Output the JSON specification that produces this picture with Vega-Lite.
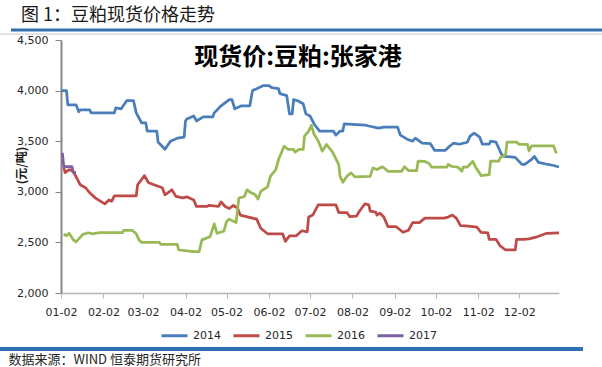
{
  "$schema": "https://vega.github.io/schema/vega-lite/v6.json",
  "width": 498,
  "height": 253,
  "autosize": {"type": "none"},
  "padding": {"left": 61, "top": 40, "right": 43, "bottom": 74},
  "background": "white",
  "config": {"view": {"stroke": null}},
  "title": {"text": "图 1：豆粕现货价格走势", "anchor": "start", "frame": "group", "font": "Noto Sans CJK SC", "fontSize": 18, "fontWeight": "normal", "color": "#1a1a1a", "dx": -40, "offset": -5, "baseline": "middle"},
  "layer": [
    {
      "data": {"values": [{}]},
      "mark": {"type": "rule", "color": "#2f70b0", "strokeWidth": 3},
      "encoding": {"x": {"value": -50}, "x2": {"value": 541}, "y": {"value": -10}, "y2": {"value": -10}}
    },
    {
      "data": {"values": [{}]},
      "mark": {"type": "rule", "color": "#c8c8c8", "strokeWidth": 1},
      "encoding": {"x": {"value": -61}, "x2": {"value": 541}, "y": {"value": -6}, "y2": {"value": -6}}
    },
    {
      "data": {"values": [{}]},
      "mark": {"type": "rule", "color": "#2f70b0", "strokeWidth": 4},
      "encoding": {"x": {"value": -61}, "x2": {"value": 522}, "y": {"value": 309}, "y2": {"value": 309}}
    },
    {
      "data": {"values": [
        {"year":"2014","date":"2014-01-02","price":4000},{"year":"2014","date":"2014-01-06","price":4000},{"year":"2014","date":"2014-01-07","price":3860},{"year":"2014","date":"2014-01-13","price":3860},{"year":"2014","date":"2014-01-15","price":3790},{"year":"2014","date":"2014-01-16","price":3810},{"year":"2014","date":"2014-01-23","price":3810},{"year":"2014","date":"2014-01-24","price":3780},{"year":"2014","date":"2014-02-10","price":3780},{"year":"2014","date":"2014-02-11","price":3830},{"year":"2014","date":"2014-02-15","price":3820},{"year":"2014","date":"2014-02-19","price":3900},{"year":"2014","date":"2014-02-24","price":3900},{"year":"2014","date":"2014-02-26","price":3780},{"year":"2014","date":"2014-03-01","price":3680},{"year":"2014","date":"2014-03-04","price":3680},{"year":"2014","date":"2014-03-05","price":3600},{"year":"2014","date":"2014-03-12","price":3600},{"year":"2014","date":"2014-03-13","price":3490},{"year":"2014","date":"2014-03-16","price":3450},{"year":"2014","date":"2014-03-18","price":3420},{"year":"2014","date":"2014-03-22","price":3500},{"year":"2014","date":"2014-03-27","price":3530},{"year":"2014","date":"2014-04-01","price":3540},{"year":"2014","date":"2014-04-02","price":3700},{"year":"2014","date":"2014-04-03","price":3720},{"year":"2014","date":"2014-04-08","price":3750},{"year":"2014","date":"2014-04-10","price":3700},{"year":"2014","date":"2014-04-15","price":3740},{"year":"2014","date":"2014-04-22","price":3740},{"year":"2014","date":"2014-04-23","price":3780},{"year":"2014","date":"2014-04-28","price":3850},{"year":"2014","date":"2014-05-04","price":3910},{"year":"2014","date":"2014-05-06","price":3910},{"year":"2014","date":"2014-05-08","price":3820},{"year":"2014","date":"2014-05-13","price":3850},{"year":"2014","date":"2014-05-19","price":3850},{"year":"2014","date":"2014-05-21","price":4000},{"year":"2014","date":"2014-05-29","price":4050},{"year":"2014","date":"2014-06-02","price":4050},{"year":"2014","date":"2014-06-04","price":4030},{"year":"2014","date":"2014-06-09","price":4020},{"year":"2014","date":"2014-06-10","price":3970},{"year":"2014","date":"2014-06-15","price":3950},{"year":"2014","date":"2014-06-17","price":3770},{"year":"2014","date":"2014-06-19","price":3770},{"year":"2014","date":"2014-06-20","price":3910},{"year":"2014","date":"2014-06-23","price":3900},{"year":"2014","date":"2014-06-27","price":3870},{"year":"2014","date":"2014-06-29","price":3770},{"year":"2014","date":"2014-07-02","price":3750},{"year":"2014","date":"2014-07-05","price":3670},{"year":"2014","date":"2014-07-09","price":3600},{"year":"2014","date":"2014-07-19","price":3600},{"year":"2014","date":"2014-07-21","price":3560},{"year":"2014","date":"2014-07-24","price":3600},{"year":"2014","date":"2014-07-26","price":3600},{"year":"2014","date":"2014-07-27","price":3670},{"year":"2014","date":"2014-08-11","price":3660},{"year":"2014","date":"2014-08-14","price":3650},{"year":"2014","date":"2014-08-21","price":3630},{"year":"2014","date":"2014-08-25","price":3640},{"year":"2014","date":"2014-09-04","price":3640},{"year":"2014","date":"2014-09-06","price":3560},{"year":"2014","date":"2014-09-11","price":3520},{"year":"2014","date":"2014-09-15","price":3500},{"year":"2014","date":"2014-09-17","price":3530},{"year":"2014","date":"2014-09-20","price":3500},{"year":"2014","date":"2014-09-22","price":3480},{"year":"2014","date":"2014-09-28","price":3475},{"year":"2014","date":"2014-10-01","price":3410},{"year":"2014","date":"2014-10-09","price":3410},{"year":"2014","date":"2014-10-12","price":3450},{"year":"2014","date":"2014-10-15","price":3480},{"year":"2014","date":"2014-10-19","price":3470},{"year":"2014","date":"2014-10-25","price":3490},{"year":"2014","date":"2014-10-27","price":3550},{"year":"2014","date":"2014-10-30","price":3580},{"year":"2014","date":"2014-11-03","price":3540},{"year":"2014","date":"2014-11-05","price":3470},{"year":"2014","date":"2014-11-10","price":3470},{"year":"2014","date":"2014-11-11","price":3500},{"year":"2014","date":"2014-11-15","price":3490},{"year":"2014","date":"2014-11-19","price":3370},{"year":"2014","date":"2014-11-21","price":3350},{"year":"2014","date":"2014-11-29","price":3340},{"year":"2014","date":"2014-12-04","price":3270},{"year":"2014","date":"2014-12-06","price":3270},{"year":"2014","date":"2014-12-11","price":3320},{"year":"2014","date":"2014-12-13","price":3350},{"year":"2014","date":"2014-12-16","price":3290},{"year":"2014","date":"2014-12-23","price":3270},{"year":"2014","date":"2014-12-27","price":3260},{"year":"2014","date":"2014-12-31","price":3245},
        {"year":"2015","date":"2015-01-04","price":3240},{"year":"2015","date":"2015-01-05","price":3190},{"year":"2015","date":"2015-01-08","price":3220},{"year":"2015","date":"2015-01-11","price":3200},{"year":"2015","date":"2015-01-13","price":3150},{"year":"2015","date":"2015-01-16","price":3070},{"year":"2015","date":"2015-01-20","price":3040},{"year":"2015","date":"2015-01-23","price":2990},{"year":"2015","date":"2015-01-27","price":2940},{"year":"2015","date":"2015-01-31","price":2905},{"year":"2015","date":"2015-02-03","price":2880},{"year":"2015","date":"2015-02-06","price":2920},{"year":"2015","date":"2015-02-08","price":2905},{"year":"2015","date":"2015-02-10","price":2960},{"year":"2015","date":"2015-02-26","price":2960},{"year":"2015","date":"2015-02-27","price":3070},{"year":"2015","date":"2015-03-03","price":3160},{"year":"2015","date":"2015-03-06","price":3090},{"year":"2015","date":"2015-03-12","price":3060},{"year":"2015","date":"2015-03-16","price":3040},{"year":"2015","date":"2015-03-18","price":2970},{"year":"2015","date":"2015-03-23","price":3020},{"year":"2015","date":"2015-03-26","price":2955},{"year":"2015","date":"2015-03-31","price":2940},{"year":"2015","date":"2015-04-03","price":2950},{"year":"2015","date":"2015-04-08","price":2920},{"year":"2015","date":"2015-04-10","price":2855},{"year":"2015","date":"2015-04-18","price":2855},{"year":"2015","date":"2015-04-19","price":2865},{"year":"2015","date":"2015-04-26","price":2855},{"year":"2015","date":"2015-04-28","price":2900},{"year":"2015","date":"2015-05-01","price":2855},{"year":"2015","date":"2015-05-04","price":2835},{"year":"2015","date":"2015-05-07","price":2865},{"year":"2015","date":"2015-05-10","price":2840},{"year":"2015","date":"2015-05-12","price":2770},{"year":"2015","date":"2015-05-18","price":2750},{"year":"2015","date":"2015-05-24","price":2730},{"year":"2015","date":"2015-05-27","price":2640},{"year":"2015","date":"2015-06-01","price":2585},{"year":"2015","date":"2015-06-12","price":2585},{"year":"2015","date":"2015-06-14","price":2510},{"year":"2015","date":"2015-06-17","price":2565},{"year":"2015","date":"2015-06-22","price":2565},{"year":"2015","date":"2015-06-26","price":2615},{"year":"2015","date":"2015-06-30","price":2605},{"year":"2015","date":"2015-07-01","price":2750},{"year":"2015","date":"2015-07-04","price":2770},{"year":"2015","date":"2015-07-08","price":2870},{"year":"2015","date":"2015-07-21","price":2870},{"year":"2015","date":"2015-07-23","price":2795},{"year":"2015","date":"2015-07-29","price":2795},{"year":"2015","date":"2015-07-31","price":2755},{"year":"2015","date":"2015-08-05","price":2760},{"year":"2015","date":"2015-08-07","price":2805},{"year":"2015","date":"2015-08-11","price":2880},{"year":"2015","date":"2015-08-14","price":2870},{"year":"2015","date":"2015-08-15","price":2810},{"year":"2015","date":"2015-08-19","price":2800},{"year":"2015","date":"2015-08-20","price":2770},{"year":"2015","date":"2015-08-22","price":2790},{"year":"2015","date":"2015-08-25","price":2750},{"year":"2015","date":"2015-08-28","price":2655},{"year":"2015","date":"2015-09-03","price":2655},{"year":"2015","date":"2015-09-08","price":2600},{"year":"2015","date":"2015-09-12","price":2620},{"year":"2015","date":"2015-09-15","price":2695},{"year":"2015","date":"2015-09-20","price":2695},{"year":"2015","date":"2015-09-24","price":2740},{"year":"2015","date":"2015-10-08","price":2740},{"year":"2015","date":"2015-10-11","price":2750},{"year":"2015","date":"2015-10-14","price":2770},{"year":"2015","date":"2015-10-17","price":2740},{"year":"2015","date":"2015-10-20","price":2665},{"year":"2015","date":"2015-10-26","price":2660},{"year":"2015","date":"2015-11-01","price":2650},{"year":"2015","date":"2015-11-04","price":2600},{"year":"2015","date":"2015-11-09","price":2595},{"year":"2015","date":"2015-11-10","price":2530},{"year":"2015","date":"2015-11-15","price":2530},{"year":"2015","date":"2015-11-18","price":2465},{"year":"2015","date":"2015-11-22","price":2425},{"year":"2015","date":"2015-11-29","price":2425},{"year":"2015","date":"2015-11-30","price":2530},{"year":"2015","date":"2015-12-05","price":2530},{"year":"2015","date":"2015-12-09","price":2535},{"year":"2015","date":"2015-12-15","price":2555},{"year":"2015","date":"2015-12-22","price":2590},{"year":"2015","date":"2015-12-31","price":2595},
        {"year":"2016","date":"2016-01-04","price":2585},{"year":"2016","date":"2016-01-06","price":2565},{"year":"2016","date":"2016-01-08","price":2590},{"year":"2016","date":"2016-01-11","price":2525},{"year":"2016","date":"2016-01-13","price":2505},{"year":"2016","date":"2016-01-18","price":2580},{"year":"2016","date":"2016-01-22","price":2595},{"year":"2016","date":"2016-01-25","price":2585},{"year":"2016","date":"2016-01-28","price":2592},{"year":"2016","date":"2016-01-31","price":2597},{"year":"2016","date":"2016-02-16","price":2597},{"year":"2016","date":"2016-02-17","price":2620},{"year":"2016","date":"2016-02-23","price":2620},{"year":"2016","date":"2016-02-26","price":2585},{"year":"2016","date":"2016-02-28","price":2525},{"year":"2016","date":"2016-03-01","price":2500},{"year":"2016","date":"2016-03-14","price":2500},{"year":"2016","date":"2016-03-15","price":2480},{"year":"2016","date":"2016-03-27","price":2480},{"year":"2016","date":"2016-03-28","price":2425},{"year":"2016","date":"2016-04-08","price":2410},{"year":"2016","date":"2016-04-12","price":2410},{"year":"2016","date":"2016-04-14","price":2525},{"year":"2016","date":"2016-04-17","price":2540},{"year":"2016","date":"2016-04-20","price":2557},{"year":"2016","date":"2016-04-23","price":2683},{"year":"2016","date":"2016-04-25","price":2590},{"year":"2016","date":"2016-04-30","price":2610},{"year":"2016","date":"2016-05-02","price":2706},{"year":"2016","date":"2016-05-04","price":2730},{"year":"2016","date":"2016-05-07","price":2710},{"year":"2016","date":"2016-05-09","price":2696},{"year":"2016","date":"2016-05-11","price":2938},{"year":"2016","date":"2016-05-15","price":2954},{"year":"2016","date":"2016-05-17","price":3020},{"year":"2016","date":"2016-05-20","price":2990},{"year":"2016","date":"2016-05-23","price":2970},{"year":"2016","date":"2016-05-25","price":2928},{"year":"2016","date":"2016-05-27","price":3004},{"year":"2016","date":"2016-06-01","price":3048},{"year":"2016","date":"2016-06-03","price":3153},{"year":"2016","date":"2016-06-07","price":3220},{"year":"2016","date":"2016-06-09","price":3319},{"year":"2016","date":"2016-06-13","price":3451},{"year":"2016","date":"2016-06-16","price":3418},{"year":"2016","date":"2016-06-20","price":3418},{"year":"2016","date":"2016-06-21","price":3392},{"year":"2016","date":"2016-06-24","price":3418},{"year":"2016","date":"2016-06-27","price":3418},{"year":"2016","date":"2016-06-28","price":3551},{"year":"2016","date":"2016-07-01","price":3600},{"year":"2016","date":"2016-07-03","price":3657},{"year":"2016","date":"2016-07-05","price":3568},{"year":"2016","date":"2016-07-08","price":3501},{"year":"2016","date":"2016-07-11","price":3402},{"year":"2016","date":"2016-07-14","price":3468},{"year":"2016","date":"2016-07-18","price":3402},{"year":"2016","date":"2016-07-20","price":3352},{"year":"2016","date":"2016-07-23","price":3269},{"year":"2016","date":"2016-07-24","price":3153},{"year":"2016","date":"2016-07-26","price":3094},{"year":"2016","date":"2016-07-29","price":3153},{"year":"2016","date":"2016-08-01","price":3187},{"year":"2016","date":"2016-08-04","price":3147},{"year":"2016","date":"2016-08-15","price":3153},{"year":"2016","date":"2016-08-17","price":3236},{"year":"2016","date":"2016-08-20","price":3220},{"year":"2016","date":"2016-08-24","price":3247},{"year":"2016","date":"2016-08-28","price":3203},{"year":"2016","date":"2016-09-07","price":3203},{"year":"2016","date":"2016-09-09","price":3247},{"year":"2016","date":"2016-09-12","price":3210},{"year":"2016","date":"2016-09-18","price":3210},{"year":"2016","date":"2016-09-19","price":3302},{"year":"2016","date":"2016-09-24","price":3300},{"year":"2016","date":"2016-09-27","price":3280},{"year":"2016","date":"2016-09-29","price":3243},{"year":"2016","date":"2016-10-10","price":3243},{"year":"2016","date":"2016-10-11","price":3270},{"year":"2016","date":"2016-10-14","price":3250},{"year":"2016","date":"2016-10-18","price":3245},{"year":"2016","date":"2016-10-21","price":3203},{"year":"2016","date":"2016-10-22","price":3245},{"year":"2016","date":"2016-10-25","price":3245},{"year":"2016","date":"2016-10-29","price":3302},{"year":"2016","date":"2016-10-31","price":3245},{"year":"2016","date":"2016-11-04","price":3160},{"year":"2016","date":"2016-11-07","price":3165},{"year":"2016","date":"2016-11-10","price":3170},{"year":"2016","date":"2016-11-11","price":3302},{"year":"2016","date":"2016-11-17","price":3302},{"year":"2016","date":"2016-11-18","price":3336},{"year":"2016","date":"2016-11-22","price":3369},{"year":"2016","date":"2016-11-23","price":3491},{"year":"2016","date":"2016-11-30","price":3491},{"year":"2016","date":"2016-12-02","price":3468},{"year":"2016","date":"2016-12-08","price":3468},{"year":"2016","date":"2016-12-09","price":3405},{"year":"2016","date":"2016-12-11","price":3455},{"year":"2016","date":"2016-12-27","price":3455},{"year":"2016","date":"2016-12-29","price":3380},
        {"year":"2017","date":"2017-01-03","price":3385},{"year":"2017","date":"2017-01-04","price":3250},{"year":"2017","date":"2017-01-10","price":3250},{"year":"2017","date":"2017-01-11","price":3190},{"year":"2017","date":"2017-01-13","price":3190}
      ]},
      "mark": {"type": "line", "strokeWidth": 2.75, "strokeJoin": "round"},
      "encoding": {
        "x": {
          "field": "date", "type": "temporal", "timeUnit": "utcmonthdate",
          "scale": {"domain": [{"year": 2012, "month": 1, "date": 2, "utc": true}, {"year": 2012, "month": 12, "date": 31, "utc": true}]},
          "axis": {
            "values": [
              {"year": 2012, "month": 1, "date": 2, "utc": true},
              {"year": 2012, "month": 2, "date": 2, "utc": true},
              {"year": 2012, "month": 3, "date": 2, "utc": true},
              {"year": 2012, "month": 4, "date": 2, "utc": true},
              {"year": 2012, "month": 5, "date": 2, "utc": true},
              {"year": 2012, "month": 6, "date": 2, "utc": true},
              {"year": 2012, "month": 7, "date": 2, "utc": true},
              {"year": 2012, "month": 8, "date": 2, "utc": true},
              {"year": 2012, "month": 9, "date": 2, "utc": true},
              {"year": 2012, "month": 10, "date": 2, "utc": true},
              {"year": 2012, "month": 11, "date": 2, "utc": true},
              {"year": 2012, "month": 12, "date": 2, "utc": true}
            ],
            "format": "%m-%d",
            "grid": false,
            "domainColor": "#b5b5b5", "domainWidth": 1.5,
            "tickColor": "#b5b5b5", "tickSize": 5, "tickWidth": 1,
            "labelFont": "DejaVu Sans", "labelFontSize": 11, "labelColor": "#262626", "labelPadding": 8,
            "labelFlush": false, "labelOverlap": false,
            "title": "数据来源：WIND 恒泰期货研究所",
            "titleFont": "Noto Sans CJK SC", "titleFontSize": 13, "titleFontWeight": "normal", "titleColor": "#262626",
            "titleX": -53, "titleY": 66, "titleAlign": "left", "titleBaseline": "middle"
          }
        },
        "y": {
          "field": "price", "type": "quantitative",
          "scale": {"domain": [2000, 4500], "nice": false, "zero": false},
          "axis": {
            "values": [2000, 2500, 3000, 3500, 4000, 4500],
            "format": ",.0f",
            "grid": false,
            "domainColor": "#868686", "domainWidth": 2,
            "tickColor": "#868686", "tickSize": 6, "tickWidth": 1,
            "labelFont": "DejaVu Sans", "labelFontSize": 11, "labelColor": "#262626", "labelPadding": 7,
            "title": "(元/吨)",
            "titleFont": "Noto Sans CJK SC", "titleFontSize": 12, "titleFontWeight": "bold", "titleColor": "#1a1a1a",
            "titleX": -40, "titleY": 125, "titleAlign": "center", "titleBaseline": "middle"
          }
        },
        "color": {
          "field": "year", "type": "nominal",
          "scale": {"domain": ["2014", "2015", "2016", "2017"], "range": ["#4a7ebb", "#be4b48", "#98b954", "#7d60a0"]},
          "legend": {
            "orient": "none", "legendX": 99, "legendY": 6, "direction": "horizontal", "padding": 0,
            "title": "现货价:豆粕:张家港",
            "titleFont": "Noto Sans CJK SC", "titleFontSize": 24, "titleFontWeight": "bold", "titleColor": "#000000",
            "titleAnchor": "middle", "titleAlign": "center", "titleOrient": "top", "titlePadding": 251, "titleLimit": 600,
            "symbolType": "stroke", "symbolSize": 676, "symbolStrokeWidth": 3,
            "labelFont": "DejaVu Sans", "labelFontSize": 11, "labelColor": "#262626", "labelOffset": 4,
            "columnPadding": 6
          }
        }
      }
    }
  ]
}
